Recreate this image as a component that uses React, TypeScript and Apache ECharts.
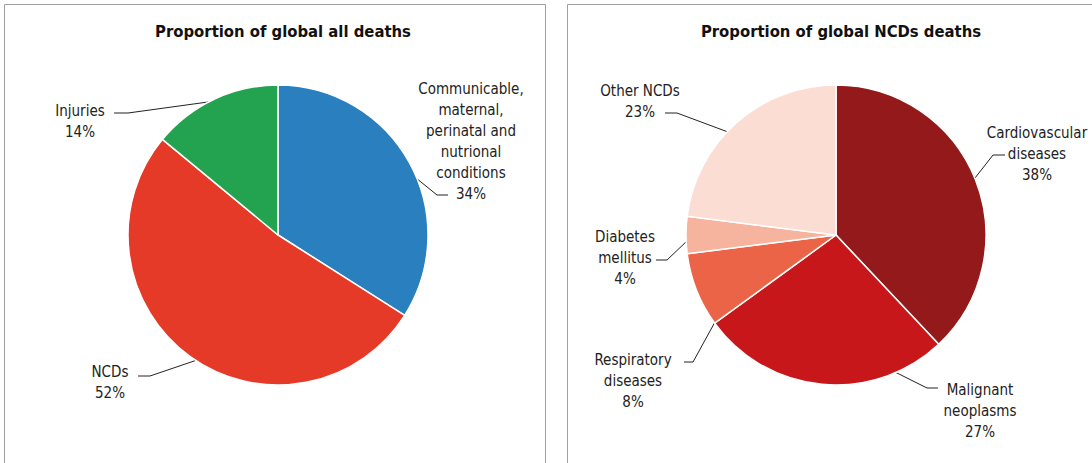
import React, { useEffect, useRef } from "react";
import * as echarts from "echarts";

const allNames = ["Communicable,\nmaternal,\nperinatal and\nnutrional\nconditions", "NCDs", "Injuries"];
const allValues = [34, 52, 14];
const allColors = ["#2A80BF", "#E63A28", "#23A24F"];

const ncdNames = ["Cardiovascular\ndiseases", "Malignant\nneoplasms", "Respiratory\ndiseases", "Diabetes\nmellitus", "Other NCDs"];
const ncdValues = [38, 27, 8, 4, 23];
const ncdColors = ["#94191A", "#C8171A", "#EB6447", "#F6B39E", "#FBDDD3"];

const titles = ["Proportion of global all deaths", "Proportion of global NCDs deaths"];

const allLabelLayout: any[] = [
  { x: 471, y: 141, pts: [[448, 195], [437, 195], [416, 178]] },
  { x: 110, y: 382, pts: [[138, 376], [150, 376], [197, 360]] },
  { x: 80, y: 121, pts: [[114, 113], [128, 113], [208, 102]] },
];
const ncdLabelLayout: any[] = [
  { x: 1037, y: 154, pts: [[1005, 155], [993, 155], [975, 178]] },
  { x: 980, y: 411, pts: [[938, 388], [927, 388], [895, 372]] },
  { x: 633, y: 381, pts: [[684, 362], [693, 362], [715, 322]] },
  { x: 625, y: 258, pts: [[656, 260], [667, 260], [688, 240]] },
  { x: 640, y: 101, pts: [[665, 113], [677, 113], [728, 132]] },
];

const FONT = "'Liberation Sans Narrow', 'DejaVu Sans Condensed', sans-serif";

export default function App() {
  const ref = useRef<HTMLDivElement>(null);
  useEffect(() => {
    if (!ref.current) return;
    const chart = echarts.init(ref.current, undefined, { renderer: "svg" });
    const mkLayout = (layouts: any[]) => (params: any) => {
      const l = layouts[params.dataIndex];
      return {
        x: l.x,
        y: l.y,
        align: "center",
        verticalAlign: "middle",
        labelLinePoints: l.pts,
      };
    };
    const labelStyle = {
      show: true,
      formatter: (p: any) => `${p.name}\n${p.value}%`,
      fontFamily: FONT,
      fontSize: 15,
      lineHeight: 21,
      color: "#222",
      align: "center",
      overflow: "none",
      width: 200,
    };
    const titleStyle = { fontFamily: FONT, fontWeight: "bold", fontSize: 16.5, color: "#111" };
    chart.setOption({
      animation: false,
      backgroundColor: "#fff",
      title: [
        { text: titles[0], left: 278, top: 18, textAlign: "center", textStyle: titleStyle },
        { text: titles[1], left: 836, top: 18, textAlign: "center", textStyle: titleStyle },
      ],
      graphic: [
        { type: "rect", shape: { x: 4.5, y: 4.5, width: 541, height: 500 }, style: { fill: "none", stroke: "#A0A0A0", lineWidth: 1 }, z: -1 },
        { type: "rect", shape: { x: 567.5, y: 4.5, width: 560, height: 500 }, style: { fill: "none", stroke: "#A0A0A0", lineWidth: 1 }, z: -1 },
      ],
      series: [
        {
          type: "pie",
          center: [278, 235],
          radius: 150,
          startAngle: 90,
          clockwise: true,
          data: allNames.map((n, i) => ({ name: n, value: allValues[i], itemStyle: { color: allColors[i] } })),
          itemStyle: { borderColor: "#fff", borderWidth: 1.5 },
          label: labelStyle,
          labelLine: { show: true, lineStyle: { color: "#222", width: 1 } },
          labelLayout: mkLayout(allLabelLayout),
          emphasis: { disabled: true },
        },
        {
          type: "pie",
          center: [836, 235],
          radius: 150,
          startAngle: 90,
          clockwise: true,
          data: ncdNames.map((n, i) => ({ name: n, value: ncdValues[i], itemStyle: { color: ncdColors[i] } })),
          itemStyle: { borderColor: "#fff", borderWidth: 1.5 },
          label: labelStyle,
          labelLine: { show: true, lineStyle: { color: "#222", width: 1 } },
          labelLayout: mkLayout(ncdLabelLayout),
          emphasis: { disabled: true },
        },
      ],
    });
    return () => chart.dispose();
  }, []);
  return <div ref={ref} style={{ position: "fixed", left: 0, top: 0, width: 1092, height: 463 }} />;
}
